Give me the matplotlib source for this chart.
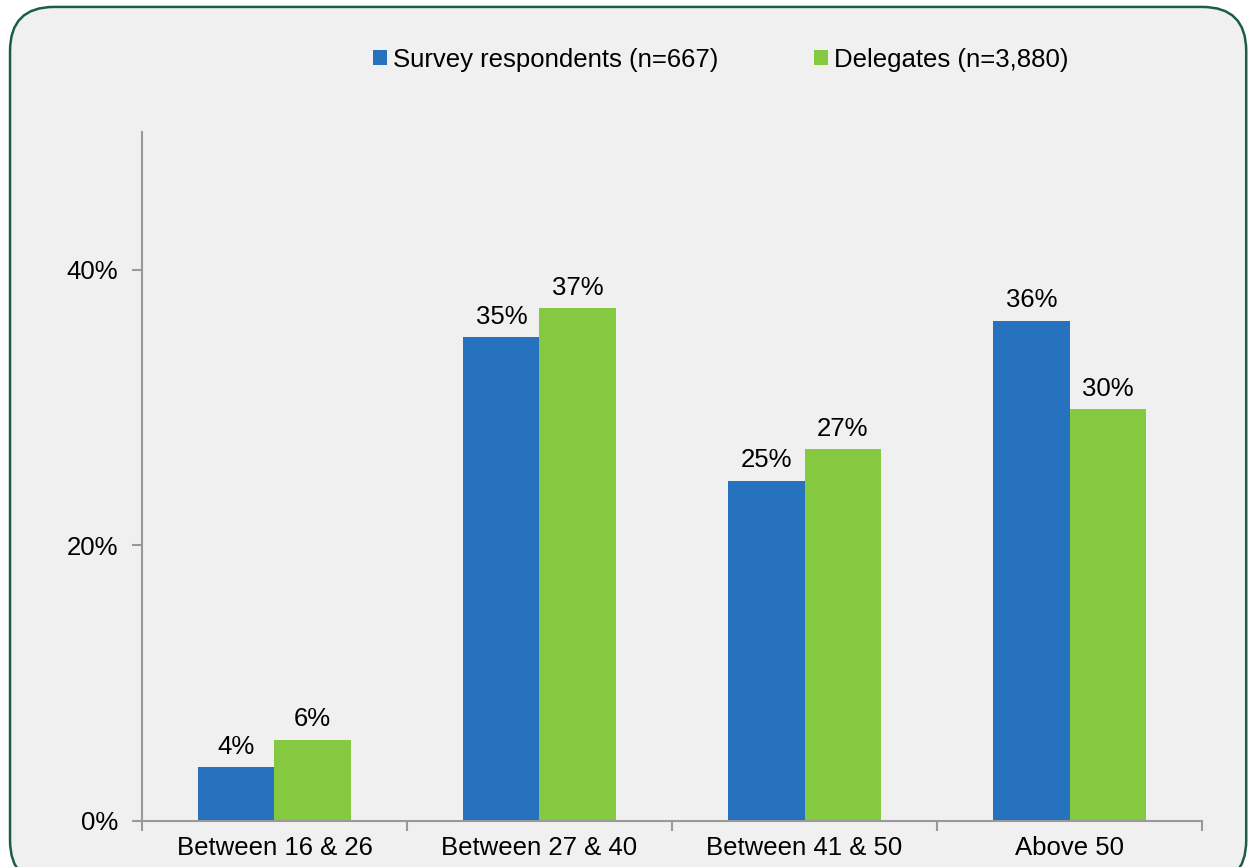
import matplotlib.pyplot as plt
from matplotlib.patches import FancyBboxPatch
from matplotlib.ticker import FixedLocator
import numpy as np

categories = ["Between 16 & 26", "Between 27 & 40", "Between 41 & 50", "Above 50"]
survey = [3.9, 35.1, 24.7, 36.3]
delegates = [5.9, 37.2, 27.0, 29.9]
survey_labels = ["4%", "35%", "25%", "36%"]
delegate_labels = ["6%", "37%", "27%", "30%"]
y_ticks = [0, 20, 40]
y_tick_labels = ["0%", "20%", "40%"]

plt.rcParams['font.family'] = ['Liberation Sans', 'DejaVu Sans']
fs = 18.5

fig = plt.figure(figsize=(12.55, 8.67), dpi=100)
fig.patch.set_facecolor('white')
box = FancyBboxPatch((0.008, -0.02), 0.985, 1.012, boxstyle="round,pad=0,rounding_size=0.035",
                     transform=fig.transFigure, facecolor='#F0F0F0', edgecolor='#1B5E45',
                     linewidth=1.8, mutation_aspect=1255/867, zorder=-10)
fig.patches.append(box)

ax = fig.add_axes([0.1131, 0.0531, 0.8447, 0.7947])
ax.set_facecolor('none')

x = np.arange(len(categories))
w = 0.287
b1 = ax.bar(x - w/2, survey, w, color='#2672BE', label='Survey respondents (n=667)')
b2 = ax.bar(x + w/2, delegates, w, color='#85C940', label='Delegates (n=3,880)')

for rect, lab in zip(b1, survey_labels):
    ax.annotate(lab, (rect.get_x() + rect.get_width()/2, rect.get_height()),
                xytext=(0, 6), textcoords='offset points', ha='center', va='bottom', fontsize=fs)
for rect, lab in zip(b2, delegate_labels):
    ax.annotate(lab, (rect.get_x() + rect.get_width()/2, rect.get_height()),
                xytext=(0, 6), textcoords='offset points', ha='center', va='bottom', fontsize=fs)

ax.set_xlim(-0.5, len(categories) - 0.5)
ax.set_ylim(0, 50)
ax.set_yticks(y_ticks)
ax.set_yticklabels(y_tick_labels, fontsize=fs)
ax.set_xticks(x)
ax.set_xticklabels(categories, fontsize=fs)
ax.tick_params(axis='x', which='major', length=0, pad=11)
ax.xaxis.set_minor_locator(FixedLocator(np.arange(-0.5, len(categories), 1)))
ax.tick_params(axis='x', which='minor', length=7, color='#999999', width=1.5)
ax.tick_params(axis='y', length=7, color='#999999', width=1.5, pad=10)

for s in ['top', 'right']:
    ax.spines[s].set_visible(False)
for s in ['left', 'bottom']:
    ax.spines[s].set_color('#999999')
    ax.spines[s].set_linewidth(1.5)

ax.legend(loc='center', bbox_to_anchor=(0.546, 1.105), ncol=2, frameon=False,
          fontsize=fs, handlelength=0.55, handleheight=0.55, handletextpad=0.23, columnspacing=3.7)

plt.savefig('out.png', dpi=100)
